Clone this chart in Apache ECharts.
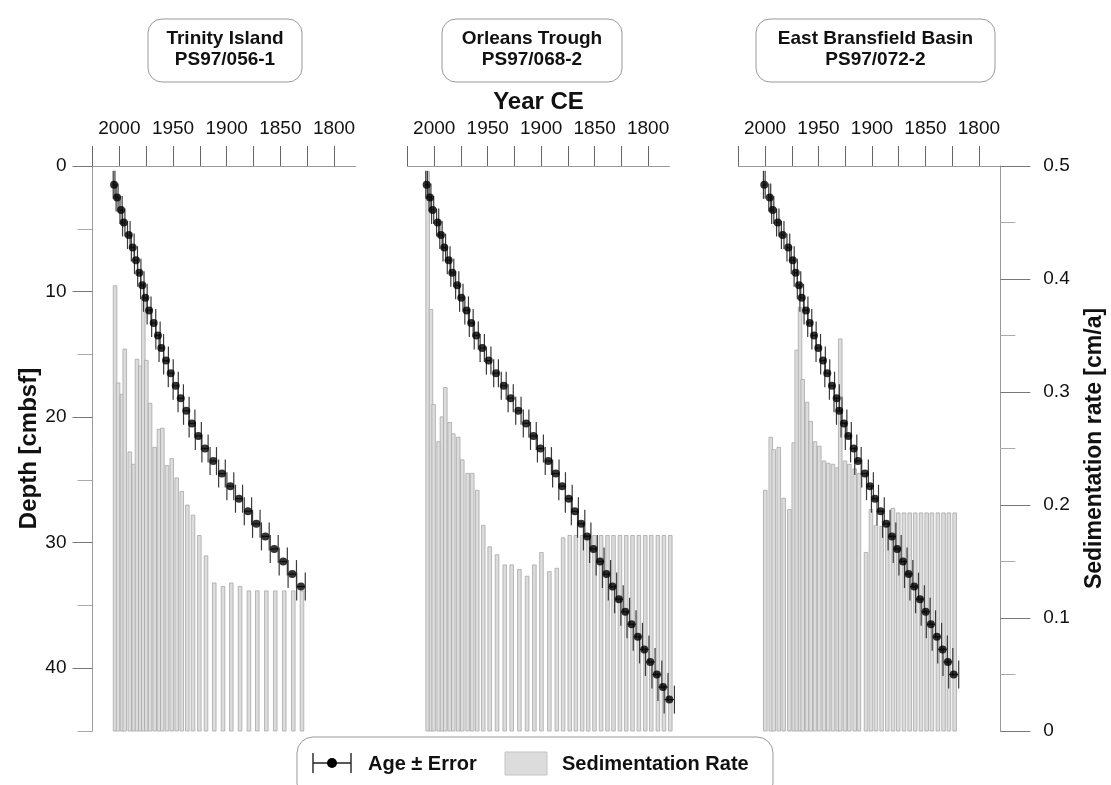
<!DOCTYPE html>
<html><head><meta charset="utf-8">
<script src="https://cdn.jsdelivr.net/npm/echarts@6/dist/echarts.min.js"></script>
<style>html,body{margin:0;padding:0;background:#fff}#c{width:1111px;height:785px}</style>
</head><body><div id="c"></div>
<script>
const FONT = 'Liberation Sans, Arial, sans-serif';
const panelTitles = [['Trinity Island','PS97/056-1'],['Orleans Trough','PS97/068-2'],['East Bransfield Basin','PS97/072-2']];
const yearTicks = [2025,2000,1975,1950,1925,1900,1875,1850,1825,1800];
const yearLabels = [2000,1950,1900,1850,1800];
const depthMajor = [0,10,20,30,40];
const depthMinor = [5,15,25,35,45];
const rateMajor = [0,0.1,0.2,0.3,0.4,0.5];
const rateMinor = [0.05,0.15,0.25,0.35,0.45];

// Panel 1: Trinity Island PS97/056-1
const depth1 = [1.5,2.5,3.5,4.5,5.5,6.5,7.5,8.5,9.5,10.5,11.5,12.5,13.5,14.5,15.5,16.5,17.5,18.5,19.5,20.5,21.5,22.5,23.5,24.5,25.5,26.5,27.5,28.5,29.5,30.5,31.5,32.5,33.5];
const age1 = [2004.9,2002.1,1998.4,1995.9,1991.2,1987.5,1984.5,1981.4,1978.6,1975.8,1972.3,1968.0,1964.0,1960.9,1956.5,1952.1,1947.5,1942.8,1937.6,1932.3,1926.4,1920.2,1912.5,1904.4,1896.6,1888.5,1880.2,1872.4,1864.0,1855.7,1847.3,1838.9,1830.8];
const err1 = [0.8,0.9,1.0,1.1,1.2,1.3,1.4,1.5,1.6,1.7,1.8,1.9,2.0,2.1,2.2,2.3,2.4,2.5,2.6,2.7,2.8,2.9,3.0,3.1,3.2,3.3,3.4,3.5,3.6,3.7,3.8,3.9,4.0];
const rate1 = [0.394,0.308,0.298,0.338,0.247,0.236,0.329,0.323,0.384,0.328,0.290,0.251,0.267,0.268,0.235,0.241,0.224,0.212,0.200,0.191,0.173,0.155,0.131,0.128,0.131,0.128,0.124,0.124,0.124,0.124,0.124,0.124,0.124];

// Panel 2: Orleans Trough PS97/068-2
const depth2 = [1.5,2.5,3.5,4.5,5.5,6.5,7.5,8.5,9.5,10.5,11.5,12.5,13.5,14.5,15.5,16.5,17.5,18.5,19.5,20.5,21.5,22.5,23.5,24.5,25.5,26.5,27.5,28.5,29.5,30.5,31.5,32.5,33.5,34.5,35.5,36.5,37.5,38.5,39.5,40.5,41.5,42.5];
const age2 = [2007.1,2004.0,2001.5,1996.8,1993.7,1990.6,1986.5,1983.1,1978.5,1974.7,1969.7,1965.4,1960.7,1955.1,1949.1,1942.2,1935.0,1928.5,1921.3,1914.1,1907.3,1900.7,1893.3,1886.3,1880.4,1874.2,1868.5,1862.6,1857.0,1851.1,1844.9,1838.9,1833.3,1827.3,1821.4,1815.5,1809.6,1803.6,1798.0,1791.8,1786.1,1780.2];
const err2 = [0.8,0.9,1.0,1.0,1.1,1.2,1.3,1.4,1.5,1.6,1.7,1.8,1.9,2.0,2.1,2.2,2.3,2.4,2.5,2.6,2.7,2.8,2.9,3.0,3.1,3.2,3.3,3.4,3.5,3.6,3.7,3.8,3.9,4.0,4.1,4.2,4.3,4.4,4.5,4.6,4.7,4.8];
const rate2 = [0.495,0.373,0.289,0.256,0.278,0.304,0.273,0.263,0.260,0.240,0.228,0.228,0.213,0.182,0.163,0.156,0.147,0.147,0.143,0.137,0.147,0.158,0.141,0.144,0.171,0.173,0.173,0.173,0.173,0.173,0.173,0.173,0.173,0.173,0.173,0.173,0.173,0.173,0.173,0.173,0.173,0.173];

// Panel 3: East Bransfield Basin PS97/072-2
const depth3 = [1.5,2.5,3.5,4.5,5.5,6.5,7.5,8.5,9.5,10.5,11.5,12.5,13.5,14.5,15.5,16.5,17.5,18.5,19.5,20.5,21.5,22.5,23.5,24.5,25.5,26.5,27.5,28.5,29.5,30.5,31.5,32.5,33.5,34.5,35.5,36.5,37.5,38.5,39.5,40.5];
const age3 = [2000.7,1995.6,1992.8,1988.1,1983.5,1978.2,1974.1,1971.3,1968.2,1965.7,1961.7,1958.2,1954.2,1950.2,1945.8,1941.8,1937.4,1933.0,1930.6,1926.2,1922.1,1917.1,1913.1,1906.5,1901.9,1897.2,1891.9,1886.6,1881.3,1876.4,1871.0,1865.7,1860.5,1855.1,1849.8,1844.9,1839.3,1834.0,1829.0,1823.6];
const err3 = [0.8,0.9,1.0,1.1,1.2,1.3,1.4,1.5,1.6,1.7,1.8,1.9,2.0,2.1,2.2,2.3,2.4,2.5,2.6,2.7,2.8,2.9,3.0,3.1,3.2,3.3,3.4,3.5,3.6,3.7,3.8,3.9,4.0,4.1,4.2,4.3,4.4,4.5,4.6,4.7];
const rate3 = [0.213,0.260,0.249,0.251,0.206,0.196,0.255,0.337,0.375,0.311,0.291,0.274,0.256,0.252,0.239,0.237,0.236,0.233,0.347,0.239,0.236,0.232,0.228,0.158,0.196,0.182,0.181,0.181,0.197,0.193,0.193,0.193,0.193,0.193,0.193,0.193,0.193,0.193,0.193,0.193];

const panels = [
  {depth: depth1, age: age1, err: err1, rate: rate1},
  {depth: depth2, age: age2, err: err2, rate: rate2},
  {depth: depth3, age: age3, err: err3, rate: rate3}
];

const gridBoxes = [
  {left: 92.5, top: 166, width: 263, height: 565},
  {left: 407.5, top: 166, width: 262, height: 565},
  {left: 738.3, top: 166, width: 262, height: 565}
];
const titleBoxes = [
  {cx: 225, w: 154},
  {cx: 532, w: 180},
  {cx: 875.5, w: 239}
];

const AXC = '#9a9a9a';
const TXT = '#111';

function barItem(params, api) {
  const yr = api.value(0), r = api.value(1);
  const top = api.coord([yr, r]);
  const bot = api.coord([yr, 0]);
  const w = 3.6;
  return {
    type: 'rect',
    shape: {x: top[0] - w / 2 + 1, y: top[1], width: w, height: bot[1] - top[1]},
    style: {fill: '#dcdcdc', stroke: '#a8a8a8', lineWidth: 0.8}
  };
}
function errItem(params, api) {
  const yr = api.value(0), d = api.value(1), e = api.value(2);
  const a = api.coord([yr - e, d]);
  const b = api.coord([yr + e, d]);
  const h = 14;
  const st = {stroke: '#3a3a3a', lineWidth: 1.2};
  return {
    type: 'group',
    children: [
      {type: 'line', shape: {x1: a[0], y1: a[1], x2: b[0], y2: b[1]}, style: st},
      {type: 'line', shape: {x1: a[0], y1: a[1] - h, x2: a[0], y2: a[1] + h}, style: st},
      {type: 'line', shape: {x1: b[0], y1: b[1] - h, x2: b[0], y2: b[1] + h}, style: st}
    ]
  };
}

const grids = gridBoxes.map(g => Object.assign({containLabel: false}, g));

const xAxes = [0, 1, 2].map(i => ({
  type: 'value', gridIndex: i, position: 'top', inverse: true, min: 1780, max: 2025,
  axisLine: {show: true, onZero: false, lineStyle: {color: AXC, width: 1}},
  axisTick: {show: true, length: 20, customValues: yearTicks, lineStyle: {color: '#666', width: 1}},
  axisLabel: {show: true, customValues: yearLabels, margin: 28, fontSize: 19, color: TXT, fontFamily: FONT,
    formatter: v => String(v)},
  splitLine: {show: false},
  name: i === 1 ? 'Year CE' : '',
  nameLocation: 'middle', nameGap: 50,
  nameTextStyle: {fontSize: 24, fontWeight: 'bold', color: TXT, fontFamily: FONT}
}));

const hiddenDepth = i => ({type: 'value', gridIndex: i, inverse: true, min: 0, max: 45, show: false});
const hiddenRate = i => ({type: 'value', gridIndex: i, min: 0, max: 0.5, show: false});

const yAxes = [
  {type: 'value', gridIndex: 0, position: 'left', inverse: true, min: 0, max: 45,
   axisLine: {show: true, onZero: false, lineStyle: {color: AXC}},
   axisTick: {show: true, length: 20, customValues: depthMajor, lineStyle: {color: '#777'}},
   axisLabel: {show: true, customValues: depthMajor, margin: 26, fontSize: 19, color: TXT, fontFamily: FONT,
     formatter: v => String(v)},
   splitLine: {show: false},
   name: 'Depth [cmbsf]', nameLocation: 'middle', nameGap: 50, nameRotate: 90,
   nameTextStyle: {fontSize: 24, fontWeight: 'bold', color: TXT, fontFamily: FONT}},
  {type: 'value', gridIndex: 0, position: 'left', inverse: true, min: 0, max: 45,
   axisLine: {show: false, onZero: false},
   axisTick: {show: true, length: 15, customValues: depthMinor, lineStyle: {color: '#aaa'}},
   axisLabel: {show: false}, splitLine: {show: false}},
  hiddenRate(0),
  hiddenDepth(1), hiddenRate(1),
  hiddenDepth(2),
  {type: 'value', gridIndex: 2, position: 'right', min: 0, max: 0.5,
   axisLine: {show: true, onZero: false, lineStyle: {color: AXC}},
   axisTick: {show: true, length: 30, customValues: rateMajor, lineStyle: {color: '#777'}},
   axisLabel: {show: true, customValues: rateMajor, margin: 43, fontSize: 19, color: TXT, fontFamily: FONT,
     formatter: v => (v === 0 ? '0' : (+v).toFixed(1))},
   splitLine: {show: false},
   name: 'Sedimentation rate [cm/a]', nameLocation: 'middle', nameGap: 83, nameRotate: 90,
   nameTextStyle: {fontSize: 23, fontWeight: 'bold', color: TXT, fontFamily: FONT}},
  {type: 'value', gridIndex: 2, position: 'right', min: 0, max: 0.5,
   axisLine: {show: false, onZero: false},
   axisTick: {show: true, length: 15, customValues: rateMinor, lineStyle: {color: '#aaa'}},
   axisLabel: {show: false}, splitLine: {show: false}}
];

const depthAxisIdx = [0, 3, 5];
const rateAxisIdx = [2, 4, 6];

const series = [];
panels.forEach((p, i) => {
  series.push({
    type: 'custom', name: 'Sedimentation Rate', xAxisIndex: i, yAxisIndex: rateAxisIdx[i],
    renderItem: barItem, z: 1, silent: true,
    data: p.age.map((a, k) => [a, p.rate[k]])
  });
  series.push({
    type: 'custom', name: 'Age error', xAxisIndex: i, yAxisIndex: depthAxisIdx[i],
    renderItem: errItem, z: 2, silent: true,
    data: p.age.map((a, k) => [a, p.depth[k], p.err[k]])
  });
  series.push({
    type: 'scatter', name: 'Age', xAxisIndex: i, yAxisIndex: depthAxisIdx[i],
    symbol: 'circle', symbolSize: 8, itemStyle: {color: '#000'}, z: 3, silent: true,
    data: p.age.map((a, k) => [a, p.depth[k]])
  });
});

const graphics = [];
const boxTop = 19, boxH = 63;
titleBoxes.forEach((b, i) => {
  graphics.push({type: 'rect', shape: {x: b.cx - b.w / 2, y: boxTop, width: b.w, height: boxH, r: 14},
    style: {fill: '#fff', stroke: '#999', lineWidth: 1}});
  graphics.push({type: 'text', x: b.cx, y: boxTop + 20, style: {text: panelTitles[i][0], fill: TXT,
    font: 'bold 19px ' + FONT, textAlign: 'center', textVerticalAlign: 'middle'}});
  graphics.push({type: 'text', x: b.cx, y: boxTop + 41, style: {text: panelTitles[i][1], fill: TXT,
    font: 'bold 19px ' + FONT, textAlign: 'center', textVerticalAlign: 'middle'}});
});
graphics.push({type: 'rect', shape: {x: 297, y: 737, width: 476, height: 62, r: 16},
  style: {fill: '#fff', stroke: '#999', lineWidth: 1}});
graphics.push({type: 'line', shape: {x1: 313, y1: 763, x2: 351, y2: 763}, style: {stroke: '#222', lineWidth: 1.4}});
graphics.push({type: 'line', shape: {x1: 313, y1: 753, x2: 313, y2: 773}, style: {stroke: '#222', lineWidth: 1.4}});
graphics.push({type: 'line', shape: {x1: 351, y1: 753, x2: 351, y2: 773}, style: {stroke: '#222', lineWidth: 1.4}});
graphics.push({type: 'circle', shape: {cx: 332, cy: 763, r: 5}, style: {fill: '#000'}});
graphics.push({type: 'text', x: 368, y: 764, style: {text: 'Age ± Error', fill: TXT, font: 'bold 20px ' + FONT,
  textAlign: 'left', textVerticalAlign: 'middle'}});
graphics.push({type: 'rect', shape: {x: 505, y: 752, width: 42, height: 23},
  style: {fill: '#dcdcdc', stroke: '#c4c4c4', lineWidth: 1}});
graphics.push({type: 'text', x: 562, y: 764, style: {text: 'Sedimentation Rate', fill: TXT, font: 'bold 20px ' + FONT,
  textAlign: 'left', textVerticalAlign: 'middle'}});

const chart = echarts.init(document.getElementById('c'), null, {renderer: 'canvas'});
chart.setOption({
  backgroundColor: '#fff',
  animation: false,
  textStyle: {fontFamily: FONT},
  grid: grids,
  xAxis: xAxes,
  yAxis: yAxes,
  series: series,
  graphic: graphics
});
</script>
</body></html>
